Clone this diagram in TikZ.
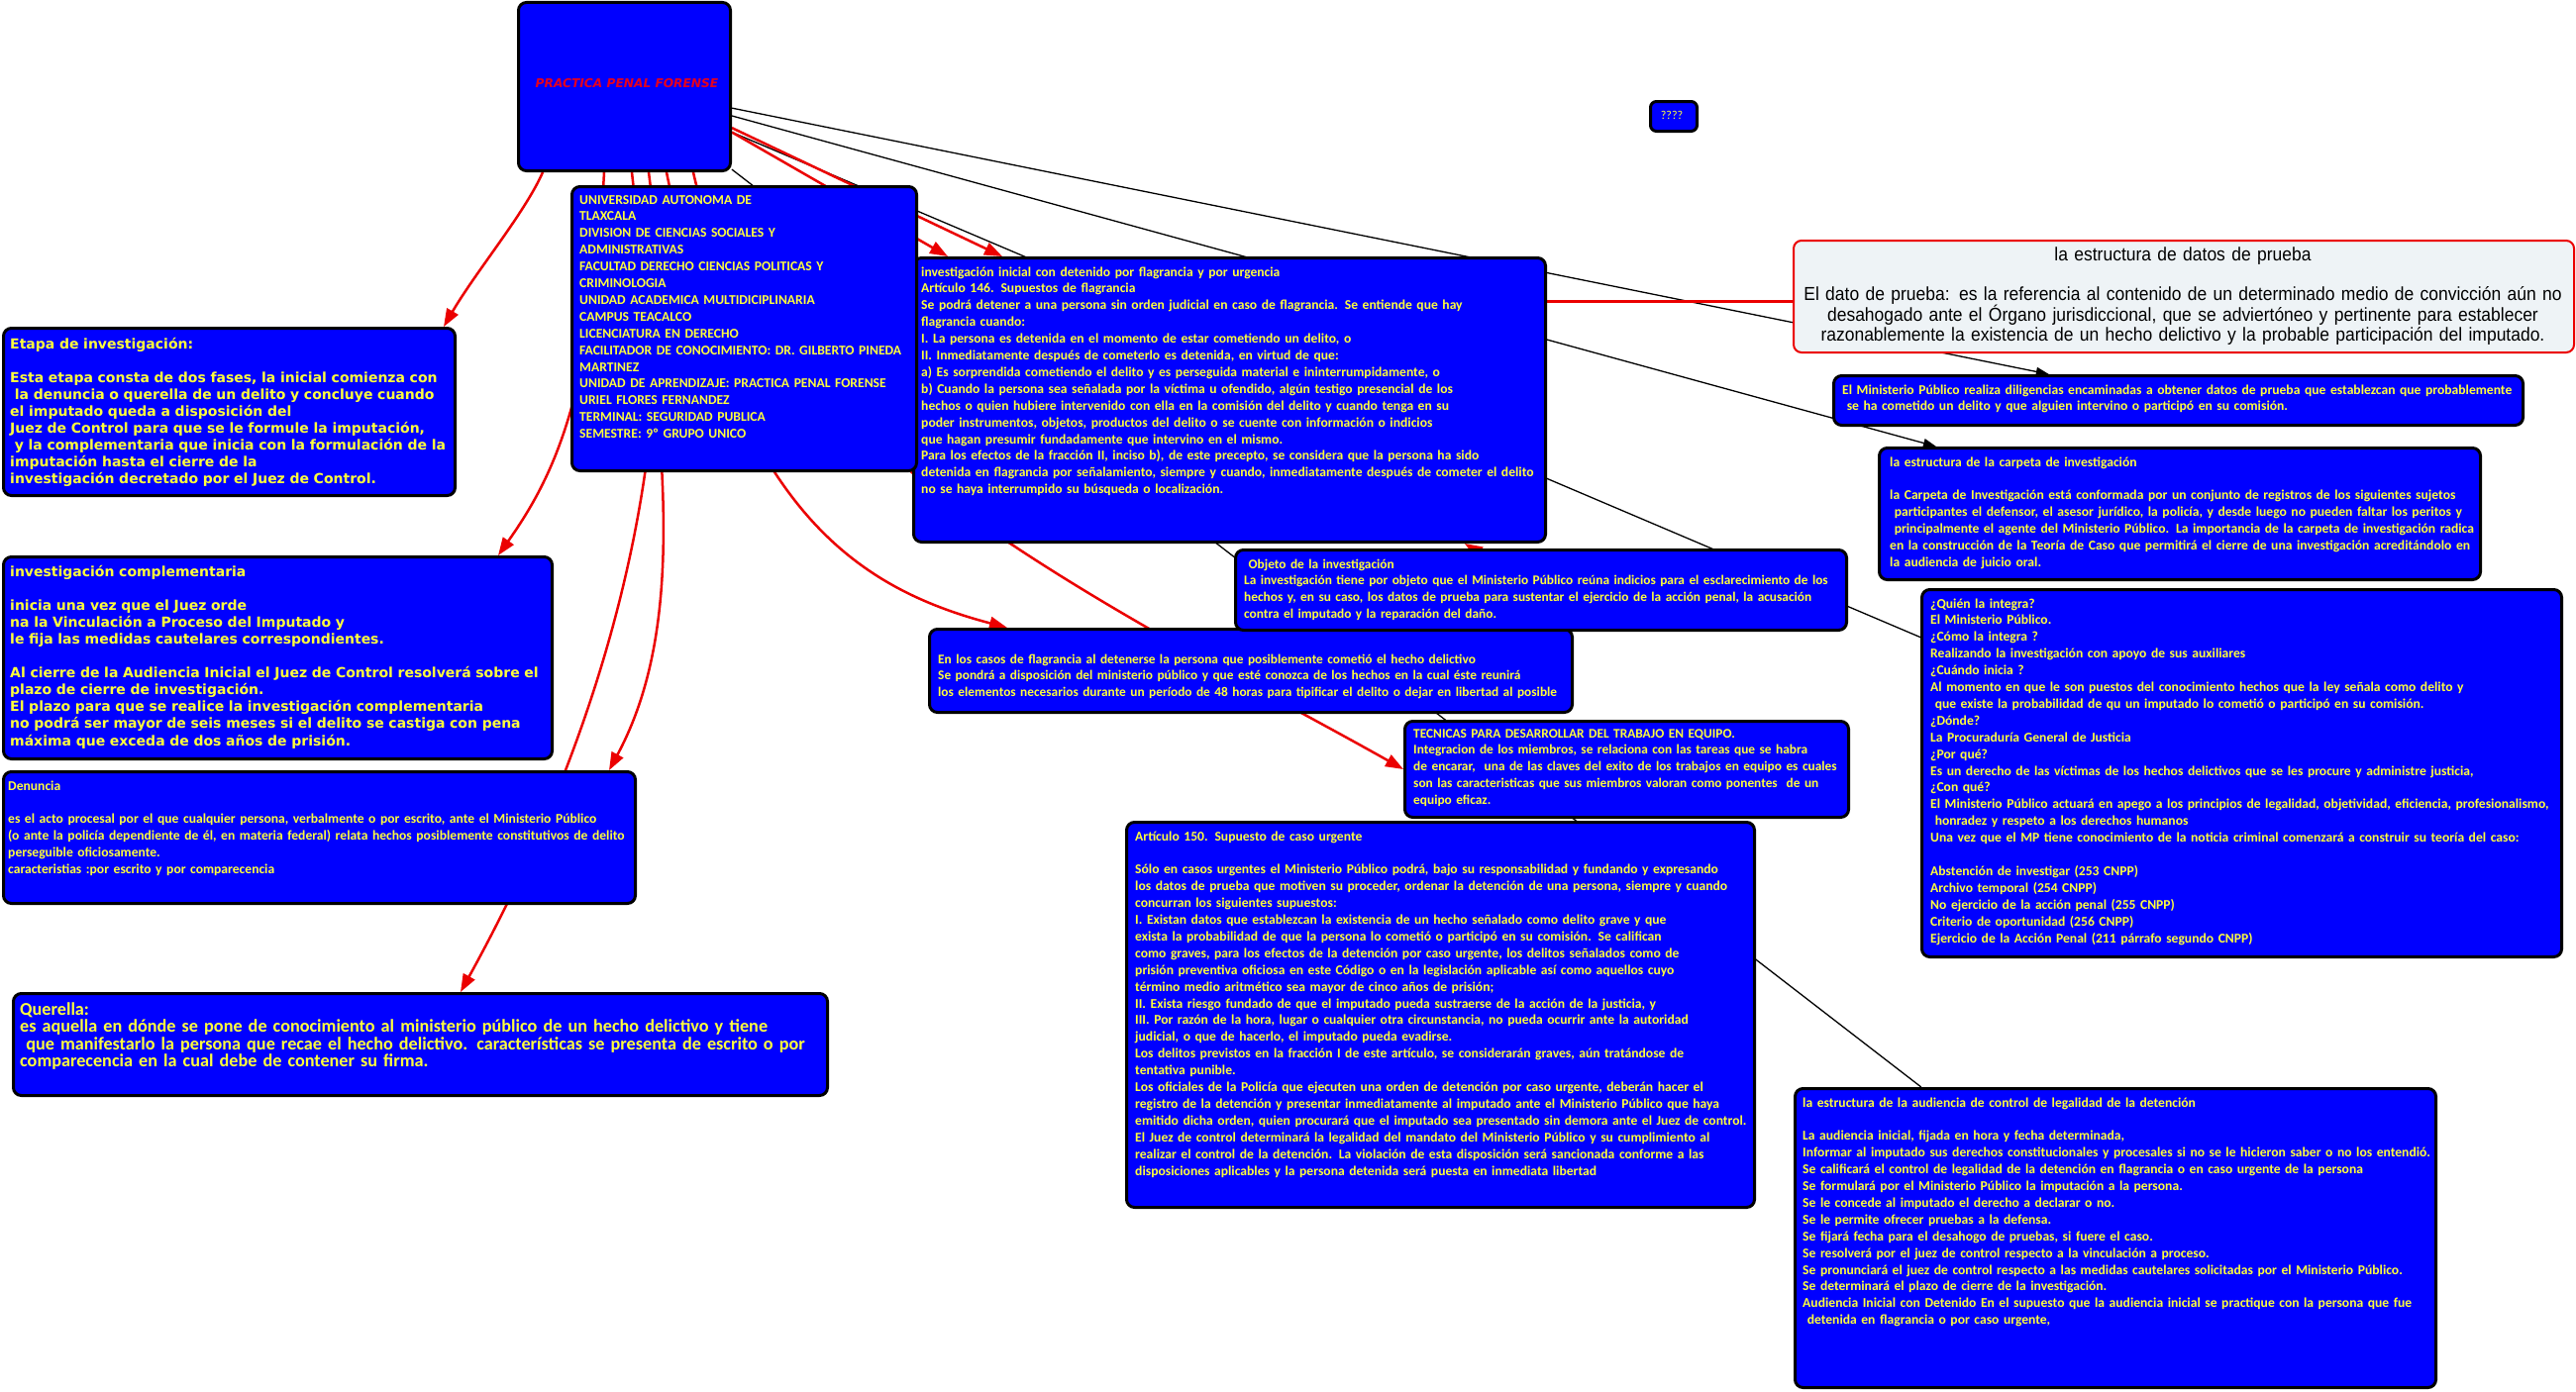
\documentclass[tikz,border=0pt]{standalone}
\usepackage{fontspec}
\setmainfont{Carlito}
\newfontfamily\verd{DejaVu Sans}
\newfontfamily\narrowf[FakeStretch=0.92]{Liberation Sans}
\usetikzlibrary{arrows.meta,calc}
\definecolor{boxblue}{RGB}{0,0,255}
\definecolor{ylw}{RGB}{255,255,60}
\definecolor{lnred}{RGB}{235,0,0}
\definecolor{datofill}{RGB}{238,243,246}
\pgfdeclarelayer{back}
\pgfdeclarelayer{bg}
\pgfsetlayers{back,bg,main}
\tikzset{
  box/.style={draw=black, line width=3pt, fill=boxblue, rounded corners=8pt, inner sep=0pt, anchor=north west},
  ctext/.style={inner sep=0pt, anchor=base west, text width=1000pt, align=left, text=ylw,
     font=\bfseries\fontsize{13.6}{16.9}\selectfont},
  ntext/.style={ctext, font=\bfseries\fontsize{13.35}{16.9}\selectfont},
  vtext/.style={inner sep=0pt, anchor=base west, text width=1000pt, align=left, text=ylw,
     font=\verd\bfseries\fontsize{14}{17.1}\selectfont},
  rline/.style={draw=lnred, line width=2.5pt},
  rarrow/.style={-{Triangle[length=18pt,width=13pt]}},
  bline/.style={draw=black, line width=1.3pt},
  barrow/.style={-{Triangle[length=13pt,width=9pt]}},
}
\begin{document}
\begin{tikzpicture}[x=1pt,y=-1pt]
\useasboundingbox (0,0) rectangle (2601,1405);
\begin{pgfonlayer}{back}
\fill[white] (0,0) rectangle (2601,1405);
\end{pgfonlayer}

% ---------- boxes ----------
\node[box, minimum width=214pt, minimum height=170pt] (main) at (522,1) {};
\node[font=\verd\bfseries\itshape\fontsize{12.2}{14}\selectfont, text={rgb,255:red,230;green,0;blue,30}, inner sep=0pt] (mainT) at (633,84) {PRACTICA PENAL FORENSE};

\node[box, minimum width=638pt, minimum height=287pt] (flag) at (921,259) {};
\node[box, minimum width=348pt, minimum height=287pt] (univ) at (576,187) {};
\node[box, minimum width=456pt, minimum height=169pt] (etapa) at (2,330) {};
\node[box, minimum width=554pt, minimum height=204pt] (compl) at (2,561) {};
\node[box, minimum width=638pt, minimum height=133pt] (denun) at (2,778) {};
\node[box, minimum width=822pt, minimum height=103pt] (quer) at (12,1002) {};
\node[box, minimum width=47pt, minimum height=30pt, rounded corners=6pt] (qq) at (1665,101) {};
\node[draw=lnred, line width=2pt, fill=datofill, rounded corners=8pt, inner sep=0pt, anchor=north west,
      minimum width=788pt, minimum height=113pt] (dato) at (1810,242) {};
\node[box, minimum width=696pt, minimum height=50pt] (mp) at (1850,378) {};
\node[box, minimum width=607pt, minimum height=133pt] (carp) at (1896,451) {};
\node[box, minimum width=649pt, minimum height=84pt] (casos) at (937,634) {};
\node[box, minimum width=617pt, minimum height=81pt] (obj) at (1246,554) {};
\node[box, minimum width=448pt, minimum height=97pt] (tec) at (1417,727) {};
\node[box, minimum width=634pt, minimum height=389pt] (art) at (1136,829) {};
\node[box, minimum width=646pt, minimum height=371pt] (quien) at (1939,594) {};
\node[box, minimum width=647pt, minimum height=302pt] (aud) at (1811,1098) {};

% ---------- texts ----------
\node[ctext] (univT) at (585,206) {UNIVERSIDAD AUTONOMA DE\\
TLAXCALA\\
DIVISION DE CIENCIAS SOCIALES Y\\
ADMINISTRATIVAS\\
FACULTAD DERECHO CIENCIAS POLITICAS Y\\
CRIMINOLOGIA\\
UNIDAD ACADEMICA MULTIDICIPLINARIA\\
CAMPUS TEACALCO\\
LICENCIATURA EN DERECHO\\
FACILITADOR DE CONOCIMIENTO: DR. GILBERTO PINEDA\\
MARTINEZ\\
UNIDAD DE APRENDIZAJE: PRACTICA PENAL FORENSE\\
URIEL FLORES FERNANDEZ\\
TERMINAL: SEGURIDAD PUBLICA\\
SEMESTRE: 9º GRUPO UNICO};

\node[vtext] (etapaT) at (10,352) {Etapa de investigación:\\ \mbox{}\\
Esta etapa consta de dos fases, la inicial comienza con\\
\ la denuncia o querella de un delito y concluye cuando\\
el imputado queda a disposición del\\
Juez de Control para que se le formule la imputación,\\
\ y la complementaria que inicia con la formulación de la\\
imputación hasta el cierre de la\\
investigación decretado por el Juez de Control.};

\node[vtext] (complT) at (10,582) {investigación complementaria\\ \mbox{}\\
inicia una vez que el Juez orde\\
na la Vinculación a Proceso del Imputado y\\
le fija las medidas cautelares correspondientes.\\ \mbox{}\\
Al cierre de la Audiencia Inicial el Juez de Control resolverá sobre el\\
plazo de cierre de investigación.\\
El plazo para que se realice la investigación complementaria\\
no podrá ser mayor de seis meses si el delito se castiga con pena\\
máxima que exceda de dos años de prisión.};

\node[ctext] (denunT) at (8,798) {Denuncia\\ \mbox{}\\
es el acto procesal por el que cualquier persona, verbalmente o por escrito, ante el Ministerio Público\\
(o ante la policía dependiente de él, en materia federal) relata hechos posiblemente constitutivos de delito\\
perseguible oficiosamente.\\
caracteristias :por escrito y por comparecencia};

\node[ctext, font=\bfseries\fontsize{18.2}{17.6}\selectfont] (querT) at (20,1025) {Querella:\\
es aquella en dónde se pone de conocimiento al ministerio público de un hecho delictivo y tiene\\
\ que manifestarlo la persona que recae el hecho delictivo. características se presenta de escrito o por\\
comparecencia en la cual debe de contener su firma.};

\node[ctext] (flagT) at (930,279) {investigación inicial con detenido por flagrancia y por urgencia\\
Artículo 146. Supuestos de flagrancia\\
Se podrá detener a una persona sin orden judicial en caso de flagrancia. Se entiende que hay\\
flagrancia cuando:\\
I. La persona es detenida en el momento de estar cometiendo un delito, o\\
II. Inmediatamente después de cometerlo es detenida, en virtud de que:\\
a) Es sorprendida cometiendo el delito y es perseguida material e ininterrumpidamente, o\\
b) Cuando la persona sea señalada por la víctima u ofendido, algún testigo presencial de los\\
hechos o quien hubiere intervenido con ella en la comisión del delito y cuando tenga en su\\
poder instrumentos, objetos, productos del delito o se cuente con información o indicios\\
que hagan presumir fundadamente que intervino en el mismo.\\
Para los efectos de la fracción II, inciso b), de este precepto, se considera que la persona ha sido\\
detenida en flagrancia por señalamiento, siempre y cuando, inmediatamente después de cometer el delito\\
no se haya interrumpido su búsqueda o localización.};

\node[font=\fontsize{12}{14}\selectfont, text=ylw, inner sep=0pt] (qqT) at (1688,116) {????};

\node[inner sep=0pt, anchor=base, text width=780pt, align=center, text=black,
      font=\narrowf\fontsize{19}{20}\selectfont] (datoT) at (2204,263) {la estructura de datos de prueba\\ \mbox{}\\
El dato de prueba: es la referencia al contenido de un determinado medio de convicción aún no\\
desahogado ante el Órgano jurisdiccional, que se adviertóneo y pertinente para establecer\\
razonablemente la existencia de un hecho delictivo y la probable participación del imputado.};

\node[ctext] (mpT) at (1860,398) {El Ministerio Público realiza diligencias encaminadas a obtener datos de prueba que establezcan que probablemente\\
\ se ha cometido un delito y que alguien intervino o participó en su comisión.};

\node[ctext] (carpT) at (1908,471) {la estructura de la carpeta de investigación\\ \mbox{}\\
la Carpeta de Investigación está conformada por un conjunto de registros de los siguientes sujetos\\
\ participantes el defensor, el asesor jurídico, la policía, y desde luego no pueden faltar los peritos y\\
\ principalmente el agente del Ministerio Público. La importancia de la carpeta de investigación radica\\
en la construcción de la Teoría de Caso que permitirá el cierre de una investigación acreditándolo en\\
la audiencia de juicio oral.};

\node[ntext] (casosT) at (947,670) {En los casos de flagrancia al detenerse la persona que posiblemente cometió el hecho delictivo\\
Se pondrá a disposición del ministerio público y que esté conozca de los hechos en la cual éste reunirá\\
los elementos necesarios durante un período de 48 horas para tipificar el delito o dejar en libertad al posible};

\node[ntext] (objT) at (1256,574) {\ Objeto de la investigación\\
La investigación tiene por objeto que el Ministerio Público reúna indicios para el esclarecimiento de los\\
hechos y, en su caso, los datos de prueba para sustentar el ejercicio de la acción penal, la acusación\\
contra el imputado y la reparación del daño.};

\node[ntext] (tecT) at (1427,745) {TECNICAS PARA DESARROLLAR DEL TRABAJO EN EQUIPO.\\
Integracion de los miembros, se relaciona con las tareas que se habra\\
de encarar,\ \ una de las claves del exito de los trabajos en equipo es cuales\\
son las caracteristicas que sus miembros valoran como ponentes\ \ de un\\
equipo eficaz.};

\node[ctext] (artT) at (1146,849) {Artículo 150. Supuesto de caso urgente\\ \mbox{}\\
Sólo en casos urgentes el Ministerio Público podrá, bajo su responsabilidad y fundando y expresando\\
los datos de prueba que motiven su proceder, ordenar la detención de una persona, siempre y cuando\\
concurran los siguientes supuestos:\\
I. Existan datos que establezcan la existencia de un hecho señalado como delito grave y que\\
exista la probabilidad de que la persona lo cometió o participó en su comisión. Se califican\\
como graves, para los efectos de la detención por caso urgente, los delitos señalados como de\\
prisión preventiva oficiosa en este Código o en la legislación aplicable así como aquellos cuyo\\
término medio aritmético sea mayor de cinco años de prisión;\\
II. Exista riesgo fundado de que el imputado pueda sustraerse de la acción de la justicia, y\\
III. Por razón de la hora, lugar o cualquier otra circunstancia, no pueda ocurrir ante la autoridad\\
judicial, o que de hacerlo, el imputado pueda evadirse.\\
Los delitos previstos en la fracción I de este artículo, se considerarán graves, aún tratándose de\\
tentativa punible.\\
Los oficiales de la Policía que ejecuten una orden de detención por caso urgente, deberán hacer el\\
registro de la detención y presentar inmediatamente al imputado ante el Ministerio Público que haya\\
emitido dicha orden, quien procurará que el imputado sea presentado sin demora ante el Juez de control.\\
El Juez de control determinará la legalidad del mandato del Ministerio Público y su cumplimiento al\\
realizar el control de la detención. La violación de esta disposición será sancionada conforme a las\\
disposiciones aplicables y la persona detenida será puesta en inmediata libertad};

\node[ctext] (quienT) at (1949,614) {¿Quién la integra?\\
El Ministerio Público.\\
¿Cómo la integra ?\\
Realizando la investigación con apoyo de sus auxiliares\\
¿Cuándo inicia ?\\
Al momento en que le son puestos del conocimiento hechos que la ley señala como delito y\\
\ que existe la probabilidad de qu un imputado lo cometió o participó en su comisión.\\
¿Dónde?\\
La Procuraduría General de Justicia\\
¿Por qué?\\
Es un derecho de las víctimas de los hechos delictivos que se les procure y administre justicia,\\
¿Con qué?\\
El Ministerio Público actuará en apego a los principios de legalidad, objetividad, eficiencia, profesionalismo,\\
\ honradez y respeto a los derechos humanos\\
Una vez que el MP tiene conocimiento de la noticia criminal comenzará a construir su teoría del caso:\\ \mbox{}\\
Abstención de investigar (253 CNPP)\\
Archivo temporal (254 CNPP)\\
No ejercicio de la acción penal (255 CNPP)\\
Criterio de oportunidad (256 CNPP)\\
Ejercicio de la Acción Penal (211 párrafo segundo CNPP)};

\node[ctext] (audT) at (1820,1118) {la estructura de la audiencia de control de legalidad de la detención\\ \mbox{}\\
La audiencia inicial, fijada en hora y fecha determinada,\\
Informar al imputado sus derechos constitucionales y procesales si no se le hicieron saber o no los entendió.\\
Se calificará el control de legalidad de la detención en flagrancia o en caso urgente de la persona\\
Se formulará por el Ministerio Público la imputación a la persona.\\
Se le concede al imputado el derecho a declarar o no.\\
Se le permite ofrecer pruebas a la defensa.\\
Se fijará fecha para el desahogo de pruebas, si fuere el caso.\\
Se resolverá por el juez de control respecto a la vinculación a proceso.\\
Se pronunciará el juez de control respecto a las medidas cautelares solicitadas por el Ministerio Público.\\
Se determinará el plazo de cierre de la investigación.\\
Audiencia Inicial con Detenido En el supuesto que la audiencia inicial se practique con la persona que fue\\
\ detenida en flagrancia o por caso urgente,};

% ---------- connectors (behind boxes) ----------
\begin{pgfonlayer}{bg}
\draw[bline, barrow] (main) -- (mp);
\draw[bline, barrow] (main) -- (carp);
\draw[bline] (main) -- (quien);
\draw[bline] (main) -- (aud);

\draw[rline] (univ.east |- {$(dato.west)+(0,5)$}) -- ($(dato.west)+(0,5)$);
\draw[rline, rarrow] (obj) -- (flag);
\draw[rline, rarrow] (main.-21) -- ($(flag.north west)+(91,0)$);
\draw[rline, rarrow] (main.-23) -- ($(flag.north west)+(36,0)$);

\draw[rline, rarrow] ($(main.south west)+(26,0)$) .. controls (530,215) and (480,275) .. ($(etapa.north east)+(-13,0)$);
\draw[rline, rarrow] ($(main.south west)+(88,0)$) .. controls (598,400) and (560,480) .. ($(compl.north east)+(-56,0)$);
\draw[rline, rarrow] ($(main.south west)+(116,0)$) .. controls (665,420) and (700,620) .. ($(denun.north east)+(-28,0)$);
\draw[rline, rarrow] ($(main.south west)+(133,0)$) .. controls (700,520) and (560,830) .. ($(quer.north west)+(453,0)$);
\draw[rline, rarrow] ($(main.south west)+(151,0)$) .. controls (740,500) and (850,590) .. ($(casos.north west)+(80,0)$);
\draw[rline, rarrow] ($(main.south west)+(178,0)$) .. controls (760,450) and (1162,633) .. (tec.west);
\end{pgfonlayer}
\end{tikzpicture}
\end{document}
